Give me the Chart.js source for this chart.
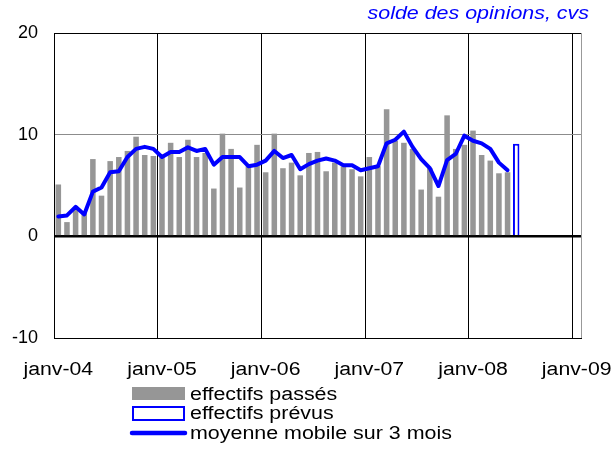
<!DOCTYPE html>
<html lang="fr">
<head>
<meta charset="utf-8">
<title>Effectifs - solde des opinions</title>
<script src="https://cdn.jsdelivr.net/npm/chart.js@4/dist/chart.umd.min.js"></script>
<style>
  html, body { margin: 0; padding: 0; background: #fff; }
  canvas { display: block; }
</style>
</head>
<body>
<canvas class="canvas" width="614" height="450"></canvas>
<script>
/* global Chart */
// months from janv-04 to janv-09
const years = ['04', '05', '06', '07', '08', '09'];
const monthNames = ['janv', 'févr', 'mars', 'avr', 'mai', 'juin', 'juil', 'août', 'sept', 'oct', 'nov', 'déc'];
const tickLabels = ['janv-04', 'janv-05', 'janv-06', 'janv-07', 'janv-08', 'janv-09'];

const categories = [];
years.forEach(function(y, i) {
  const count = i === years.length - 1 ? 1 : 12;
  for (let m = 0; m < count; m++) {
    categories.push(monthNames[m] + '-' + y);
  }
});

// effectifs passés, janv-04 .. mai-08
const pastValues = [
  5.1, 1.4, 2.6, 2.5, 7.6, 4.0, 7.4, 7.8, 8.4, 9.8, 8.0, 7.9,
  7.8, 9.2, 7.8, 9.5, 7.8, 8.2, 4.7, 10.1, 8.6, 4.8, 6.9, 9.0,
  6.3, 10.1, 6.7, 7.25, 6.0, 8.2, 8.3, 6.4, 7.25, 6.9, 6.6, 5.9,
  7.8, 6.9, 12.5, 9.4, 9.2, 8.6, 4.6, 6.7, 3.9, 11.9, 8.6, 9.0,
  10.4, 8.0, 7.45, 6.2, 6.3
];

// moyenne mobile sur 3 mois
const movingAvg = [
  1.96, 2.06, 2.9, 2.15, 4.4, 4.8, 6.3, 6.4, 7.8, 8.6, 8.8, 8.6,
  7.8, 8.3, 8.3, 8.75, 8.4, 8.6, 7.05, 7.8, 7.8, 7.8, 6.9, 7.05,
  7.45, 8.4, 7.7, 8.0, 6.6, 7.1, 7.45, 7.65, 7.45, 7.0, 7.0, 6.5,
  6.7, 6.9, 9.15, 9.5, 10.3, 8.8, 7.6, 6.7, 4.95, 7.5, 8.1, 9.9,
  9.4, 9.15, 8.6, 7.25, 6.5
];

// effectifs prévus
const forecastMonth = 'juin-08';
const forecastValue = 9.1;

const FONT = '"Liberation Sans", Arial, sans-serif';

function stretchText(ctx, text, x, y, align, sx) {
  ctx.save();
  ctx.translate(x, y);
  ctx.scale(sx, 1);
  ctx.textAlign = align;
  ctx.fillText(text, 0, 0);
  ctx.restore();
}

// x labels, subtitle and legend are drawn here (stretched text like the original)
const textPlugin = {
  id: 'texts',
  afterDraw(chart) {
    const ctx = chart.ctx;
    const xScale = chart.scales.x;
    const sets = chart.data.datasets;
    ctx.save();

    ctx.fillStyle = '#000';
    ctx.font = '18px ' + FONT;
    ctx.textBaseline = 'alphabetic';
    tickLabels.forEach(function(label) {
      const px = xScale.getPixelForValue(categories.indexOf(label));
      stretchText(ctx, label, px, 375, 'center', 1.18);
    });

    ctx.fillStyle = '#0000ff';
    ctx.font = 'italic 18px ' + FONT;
    stretchText(ctx, 'solde des opinions, cvs', 589, 19, 'right', 1.19);

    // legend
    const boxX = 132, boxW = 53;
    ctx.fillStyle = sets[1].backgroundColor;
    ctx.fillRect(boxX, 387, boxW, 13);
    ctx.strokeStyle = sets[2].borderColor;
    ctx.lineWidth = 2;
    ctx.strokeRect(boxX + 1, 407, boxW - 2, 13);
    ctx.strokeStyle = sets[0].borderColor;
    ctx.lineWidth = 4.5;
    ctx.lineCap = 'round';
    ctx.beginPath();
    ctx.moveTo(boxX, 433);
    ctx.lineTo(boxX + boxW, 433);
    ctx.stroke();

    ctx.fillStyle = '#000';
    ctx.font = '18px ' + FONT;
    ctx.textBaseline = 'middle';
    stretchText(ctx, sets[1].label, 190, 395, 'left', 1.19);
    stretchText(ctx, sets[2].label, 190, 414, 'left', 1.19);
    stretchText(ctx, sets[0].label, 190, 434, 'left', 1.19);
    ctx.restore();
  }
};

class SoldeChart {
  constructor() {
    const thisChart = this;
    thisChart.dom = {};
    thisChart.dom.canvas = document.querySelector('.canvas');
    thisChart.initChart();
  }

  initChart() {
    const thisChart = this;
    thisChart.chart = new Chart(thisChart.dom.canvas, {
      type: 'bar',
      data: {
        labels: categories,
        datasets: [{
          type: 'line',
          label: 'moyenne mobile sur 3 mois',
          data: movingAvg,
          borderColor: '#0000ff',
          borderWidth: 4,
          pointRadius: 0,
          borderJoinStyle: 'round',
          borderCapStyle: 'round',
          tension: 0,
          order: 0,
        },
        {
          label: 'effectifs passés',
          data: pastValues,
          backgroundColor: '#969696',
          barPercentage: 0.64,
          categoryPercentage: 1,
          grouped: false,
          order: 1,
        },
        {
          label: 'effectifs prévus',
          data: [{ x: forecastMonth, y: forecastValue }],
          backgroundColor: '#ffffff',
          borderColor: '#0000ff',
          borderWidth: 2,
          barPercentage: 0.75,
          categoryPercentage: 1,
          grouped: false,
          order: 1,
        }]
      },
      options: {
        responsive: false,
        animation: false,
        devicePixelRatio: 1,
        layout: { padding: { top: 33, right: 33, left: 0, bottom: 0 } },
        plugins: {
          legend: { display: false },
          tooltip: { enabled: false },
        },
        scales: {
          x: {
            offset: true,
            grid: {
              offset: true,
              drawTicks: false,
              color: function(c) {
                if (c.index === undefined) return '#999999';
                return c.index % 12 === 0 ? '#000000' : 'rgba(0,0,0,0)';
              },
              lineWidth: 1,
            },
            border: { color: '#000000', width: 1 },
            ticks: { display: false },
            afterFit: function(scale) { scale.height = 112; },
          },
          y: {
            min: -10,
            max: 20,
            ticks: {
              stepSize: 10,
              padding: 16,
              color: '#000',
              font: { family: FONT, size: 18 },
            },
            grid: {
              drawTicks: false,
              color: function(c) {
                return c.tick && c.tick.value === 10 ? '#8c8c8c' : '#000000';
              },
              lineWidth: function(c) {
                return c.tick && c.tick.value === 0 ? 2.5 : 1;
              },
            },
            border: { color: '#000000', width: 1 },
            afterFit: function(scale) { scale.width = 54; },
          }
        }
      },
      plugins: [textPlugin],
    });
  }
}

new SoldeChart();
</script>
</body>
</html>
